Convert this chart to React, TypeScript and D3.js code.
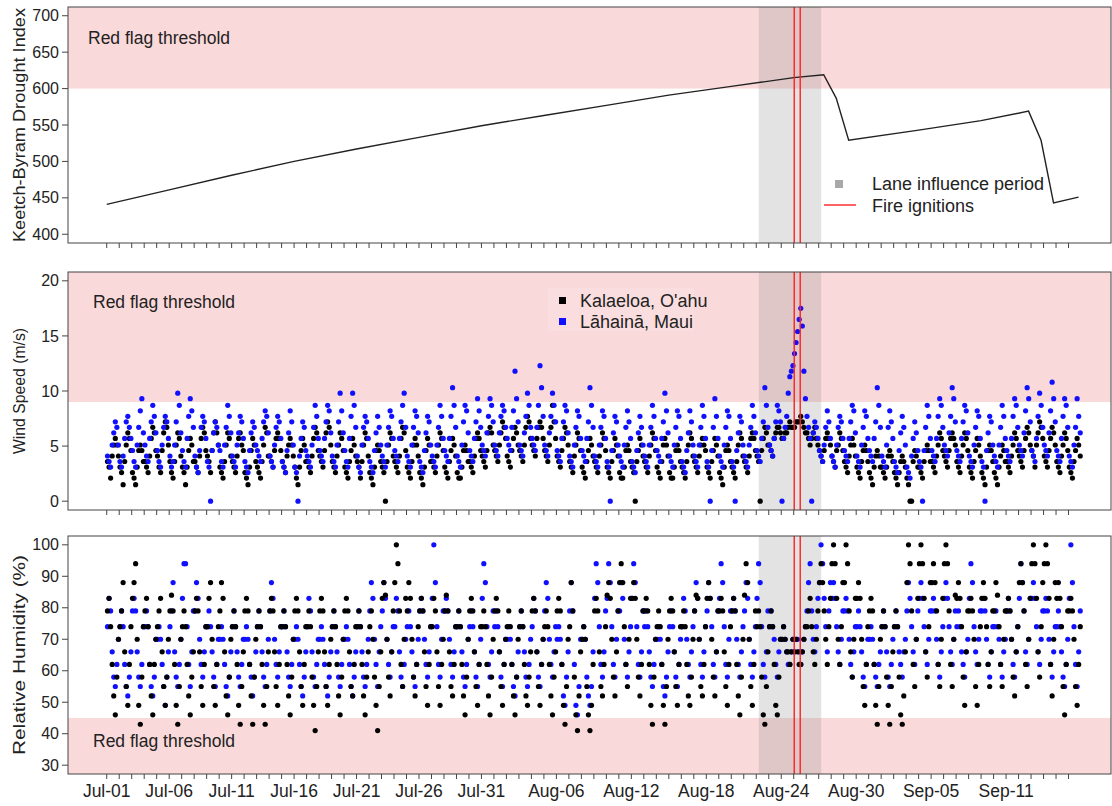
import React from 'react';
import * as d3 from 'd3';

// days counted from Jul-01
const tickDays = [0, 5, 10, 15, 20, 25, 30, 36, 42, 48, 54, 60, 66, 72];
const tickLabels = ['Jul-01', 'Jul-06', 'Jul-11', 'Jul-16', 'Jul-21', 'Jul-26', 'Jul-31', 'Aug-06', 'Aug-12', 'Aug-18', 'Aug-24', 'Aug-30', 'Sep-05', 'Sep-11'];
const lastDay = 77;

const lanePeriod = [52.2, 57.2];
const ignitionDays = [55.04, 55.52];

const kbdiDays = [0, 5, 10, 15, 20, 25, 30, 35, 40, 45, 50, 55, 57.4, 58.4, 59.4, 65, 70, 73.8, 74.8, 75.8, 77.8];
const kbdiValues = [441, 461, 481, 500, 517, 533, 549, 563, 577, 591, 603, 615, 619, 587, 529, 543, 556, 569, 529, 443, 451];

// wind speed (m/s), 3-hourly readings per day
const kalaeloaWind = [
  [3.6,3.1,2.1,4.1,5.1,5.7,5.1,4.1],[3.1,2.6,1.5,3.6,5.1,6.2,5.7,4.6],[2.6,2.1,1.5,3.1,4.6,5.1,4.6,3.6],[3.6,3.1,2.6,4.1,5.7,6.7,6.2,4.6],
  [4.1,3.1,2.6,4.6,6.2,7.2,6.7,5.1],[3.6,2.6,2.1,3.6,5.1,6.2,5.7,4.1],[3.1,2.6,1.5,3.1,4.6,5.7,5.1,3.6],[3.6,3.1,2.6,4.1,5.7,6.7,6.2,4.6],
  [4.1,3.6,2.6,4.6,6.2,7.2,6.2,5.1],[3.1,2.6,2.1,3.6,5.1,6.2,5.7,4.1],[3.6,3.1,2.6,4.1,5.7,6.2,5.1,4.6],[2.6,2.1,1.5,3.1,4.6,5.7,5.1,3.6],
  [3.1,2.6,2.1,3.6,5.1,6.7,6.2,4.1],[4.1,3.6,3.1,4.6,5.7,6.2,5.7,4.6],[3.6,3.1,2.6,4.1,5.1,5.7,5.1,4.1],[3.1,2.1,1.5,3.1,4.6,5.7,5.1,3.6],
  [3.6,3.1,2.6,4.1,5.7,6.7,6.2,4.6],[4.1,3.6,3.1,4.6,6.2,7.2,6.7,5.1],[3.6,3.1,2.6,4.1,5.1,6.2,5.7,4.6],[3.1,2.6,2.1,3.6,4.6,5.7,5.1,4.1],
  [3.6,3.1,2.1,3.6,5.1,6.2,5.7,4.1],[2.6,2.1,1.5,3.1,4.6,5.1,4.6,3.6],[3.1,2.6,0,3.6,5.1,6.2,5.7,4.1],[3.6,3.1,2.6,4.1,5.7,6.7,6.2,4.6],
  [3.1,2.6,2.1,3.6,5.1,5.7,5.1,4.1],[2.6,2.1,1.5,3.1,4.6,5.7,5.1,3.6],[3.6,3.1,2.6,4.1,5.1,6.2,5.7,4.6],[3.1,2.6,2.1,3.6,4.6,5.7,5.1,4.1],
  [2.6,2.1,2.1,3.1,4.6,5.1,4.6,3.6],[3.6,3.1,2.6,4.1,5.7,6.2,5.7,4.6],[4.1,3.6,3.1,4.6,6.2,6.7,6.2,5.1],[4.6,4.1,3.6,5.1,6.2,7.2,6.7,5.7],
  [4.1,3.6,3.1,4.6,5.7,6.7,6.2,5.1],[4.6,4.1,3.6,5.1,6.7,7.7,7.2,5.7],[5.1,4.6,4.1,5.7,6.7,7.2,6.7,5.7],[4.6,4.1,3.6,5.1,6.7,8.7,7.2,5.7],
  [4.1,3.6,3.1,4.6,5.7,6.7,6.2,5.1],[3.6,3.1,2.6,4.1,5.1,6.2,5.7,4.6],[3.1,2.6,2.1,3.6,4.6,5.7,5.1,4.1],[3.6,3.1,2.6,4.1,5.1,6.2,5.7,4.6],
  [3.1,2.6,2.1,3.6,4.6,5.7,5.1,4.1],[2.6,2.1,2.1,3.1,4.6,5.1,4.6,3.6],[3.1,2.6,0,3.6,4.6,5.7,5.1,4.1],[3.6,3.1,2.6,4.1,5.1,6.2,5.7,4.6],
  [3.1,2.6,2.1,3.6,5.1,5.7,5.1,4.1],[2.6,2.1,2.1,3.1,4.6,5.1,4.6,3.6],[3.1,2.6,2.1,3.6,5.1,6.2,5.7,4.1],[3.6,3.1,2.6,4.1,5.1,5.7,5.1,4.6],
  [3.1,2.6,2.1,3.6,4.6,5.7,5.1,4.1],[2.6,2.1,1.5,3.1,4.6,5.1,4.6,3.6],[3.1,2.6,2.1,3.6,5.1,6.2,5.7,4.1],[3.6,3.1,2.6,4.1,5.7,6.2,5.7,4.6],
  [4.1,3.6,0,4.6,5.7,6.7,6.2,5.1],[5.1,4.6,4.1,5.7,6.2,6.7,6.7,6.2],[5.7,5.7,6.2,6.2,6.7,7.2,6.7,6.7],[6.7,7.2,7.2,7.2,7.7,7.2,6.7,6.2],
  [6.2,5.7,5.1,5.7,6.2,6.7,5.7,5.1],[4.6,4.1,3.6,4.6,5.7,6.2,5.7,5.1],[4.1,3.6,3.1,4.6,5.1,6.2,5.7,4.6],[3.6,3.1,2.6,4.1,5.1,5.7,5.1,4.1],
  [3.1,2.6,2.1,3.6,4.6,5.1,4.6,3.6],[2.6,2.1,1.5,3.1,4.1,4.6,4.1,3.1],[3.1,2.6,2.1,3.1,4.1,4.6,4.1,3.6],[2.6,2.1,1.5,2.6,3.6,4.1,3.6,3.1],
  [2.1,1.5,0,0,3.6,4.6,4.1,3.1],[3.1,2.6,2.1,3.6,4.6,5.1,4.6,3.6],[3.6,3.1,2.6,4.1,5.1,6.2,5.7,4.6],[4.1,3.6,3.1,4.6,5.7,6.2,5.7,5.1],
  [3.6,3.1,2.6,4.1,5.1,6.2,5.7,4.6],[3.1,2.6,2.1,3.6,4.6,5.7,5.1,4.1],[2.6,2.1,1.5,3.1,4.6,5.1,4.6,3.6],[2.6,2.1,1.5,3.1,4.1,5.1,4.6,3.6],
  [3.6,3.1,2.6,4.1,5.1,6.2,5.7,4.6],[4.1,3.6,3.1,4.6,5.7,6.7,6.2,5.1],[4.6,4.1,3.1,5.1,6.2,7.2,6.7,5.7],[4.1,3.6,3.1,4.6,5.7,6.7,6.2,5.1],
  [3.6,3.1,2.6,4.1,5.1,6.2,5.7,4.6],[3.1,2.6,2.1,3.6,4.6,5.7,5.1,4.1],
];
const lahainaWind = [
  [4.1,3.6,3.1,5.1,6.2,7.2,6.7,5.1],[3.6,3.1,4.1,5.7,7.2,7.7,6.7,5.7],[4.6,3.6,3.1,5.1,6.7,8.2,9.3,6.2],[5.1,4.1,3.6,5.7,7.2,8.7,7.7,6.2],
  [4.6,3.6,3.1,5.1,6.7,7.7,7.2,5.7],[4.1,3.1,3.6,5.1,7.2,9.8,8.7,6.2],[4.6,3.6,3.1,5.7,7.7,9.3,8.2,6.7],[4.1,3.1,2.6,4.6,6.7,7.7,7.2,5.7],
  [3.6,3.1,0,4.6,6.2,7.2,6.7,5.1],[4.6,3.6,3.1,5.1,6.7,8.7,7.7,6.2],[4.1,3.6,3.1,5.1,6.2,7.7,7.2,5.7],[3.6,3.1,2.6,4.6,6.2,7.2,6.7,5.1],
  [4.6,4.1,3.6,5.7,7.2,8.2,7.7,6.2],[4.1,3.6,3.1,5.1,6.7,7.7,7.2,5.7],[3.6,3.1,2.6,4.6,6.2,8.2,7.2,5.1],[3.1,2.6,0,4.1,5.7,7.2,6.7,4.6],
  [4.1,3.6,3.1,5.1,6.7,8.7,7.7,5.7],[4.6,4.1,3.6,5.7,7.2,8.7,8.2,6.2],[4.1,3.6,3.1,5.1,7.2,9.8,8.2,6.2],[4.6,3.6,3.1,5.7,7.7,9.8,8.7,6.7],
  [4.1,3.1,2.6,5.1,6.7,7.7,7.2,5.7],[3.6,3.1,2.6,4.6,6.2,7.7,6.7,5.1],[4.1,3.6,3.1,5.1,6.7,8.2,7.7,5.7],[4.6,4.1,3.6,5.7,7.2,8.7,9.8,6.7],
  [4.1,3.6,3.1,5.1,6.7,8.2,7.7,6.2],[3.6,3.1,2.6,4.6,6.2,7.7,7.2,5.1],[4.1,3.6,3.1,5.1,6.7,8.7,7.7,5.7],[4.6,4.1,3.6,5.7,7.7,10.3,8.7,6.7],
  [4.1,3.6,3.1,5.1,7.2,8.7,8.2,6.2],[4.6,4.1,3.6,5.7,7.2,9.3,8.2,6.7],[5.1,4.6,4.1,6.2,7.7,9.3,8.7,7.2],[5.1,4.6,4.1,6.2,7.7,8.7,8.2,6.7],
  [5.7,5.1,4.6,6.7,8.2,11.8,9.3,7.2],[5.1,4.6,4.1,6.2,7.7,9.8,8.7,6.7],[5.7,5.1,4.6,6.7,8.7,12.3,10.3,7.7],[5.1,4.6,4.1,6.2,7.7,9.8,8.7,7.2],
  [4.6,4.1,3.6,5.7,7.2,8.7,8.2,6.2],[4.1,3.6,3.1,5.1,6.7,8.2,7.7,5.7],[4.6,4.1,3.6,5.7,7.2,10.3,8.7,6.7],[4.1,3.6,3.1,5.1,6.7,8.2,7.7,5.7],
  [3.6,3.1,0,4.6,6.2,7.7,7.2,5.1],[4.1,3.6,3.1,5.1,6.7,8.2,7.2,5.7],[3.6,3.1,2.6,4.6,6.2,7.7,6.7,5.1],[4.1,3.6,3.1,5.1,6.7,8.7,7.7,5.7],
  [4.6,4.1,3.6,5.7,7.2,9.8,8.2,6.2],[4.1,3.6,3.1,5.1,6.7,8.2,7.7,5.7],[3.6,3.1,2.6,4.6,6.2,8.2,7.2,5.1],[4.1,3.6,3.1,5.1,6.7,8.7,7.7,5.7],
  [3.6,3.1,0,4.6,6.7,9.3,7.7,5.7],[4.1,3.6,3.1,5.1,6.7,8.2,7.7,5.7],[3.6,3.1,0,4.6,6.2,7.7,7.2,5.1],[4.1,3.6,3.1,5.1,6.7,8.7,7.7,6.2],
  [4.6,4.1,3.6,5.7,7.2,10.3,8.7,6.7],[5.1,4.6,4.1,5.7,7.2,8.7,8.2,7.2],[0,5.7,6.7,7.7,9.8,11.3,11.8,12.3],[13.4,14.4,15.4,16.5,17.5,15.9,11.8,9.3],
  [7.7,6.7,5.7,0,6.2,7.2,6.7,5.7],[4.6,4.1,3.6,5.1,6.7,8.2,7.2,5.7],[4.1,3.6,3.1,5.1,6.7,7.7,7.2,5.7],[4.6,4.1,3.6,5.7,7.2,8.7,8.2,6.2],
  [4.1,3.6,3.1,5.1,6.7,8.2,7.7,5.7],[4.6,4.1,3.6,5.7,7.2,10.3,8.7,6.7],[4.1,3.6,3.1,5.1,6.7,8.2,7.2,5.7],[3.6,3.1,2.6,4.6,6.2,7.7,6.7,5.1],
  [3.1,2.6,2.1,4.1,5.7,7.2,6.2,4.6],[3.6,3.1,0,4.6,6.7,8.7,7.7,5.7],[4.6,4.1,3.6,5.7,7.7,9.3,8.7,6.7],[5.1,4.6,4.1,6.2,7.7,10.3,9.3,7.2],
  [4.6,4.1,3.6,5.7,7.2,8.7,8.2,6.2],[4.1,3.6,3.1,5.1,6.7,8.2,7.7,5.7],[3.6,3.1,0,4.6,6.2,7.7,7.2,5.1],[4.1,3.6,3.1,5.1,6.7,8.7,7.7,5.7],
  [4.6,4.1,3.6,5.7,7.7,9.3,8.7,6.7],[5.1,4.6,4.1,6.2,8.2,10.3,9.3,7.2],[4.6,4.1,3.6,5.7,7.7,9.8,8.7,6.7],[5.1,4.6,4.1,6.2,8.2,10.8,9.3,7.2],
  [4.6,4.1,3.6,5.7,7.7,9.3,8.7,6.7],[4.1,3.6,3.1,5.1,6.7,9.3,7.7,6.2],
];

// relative humidity (%), 3-hourly readings per day
const kalaeloaRH = [
  [79,83,74,62,52,46,58,70],[74,79,88,66,55,49,62,74],[83,88,94,70,49,43,58,74],[79,83,74,62,52,46,62,70],
  [74,79,83,66,55,49,58,70],[79,84,79,62,49,43,55,70],[74,79,74,62,52,46,58,66],[79,83,79,66,55,49,62,74],
  [74,83,88,70,55,49,62,74],[79,88,83,66,52,46,58,70],[74,79,74,62,49,43,55,66],[79,83,79,62,52,43,58,70],
  [74,79,74,62,49,43,55,66],[79,83,79,66,55,49,62,74],[74,79,74,62,52,46,58,70],[79,83,79,66,55,49,62,74],
  [74,79,74,58,49,41,55,66],[79,83,79,66,55,49,62,70],[74,79,74,62,52,46,58,70],[79,83,79,66,55,52,62,74],
  [74,79,74,62,52,46,58,66],[74,79,70,58,49,41,55,66],[83,88,84,70,58,52,66,79],[88,100,94,79,62,55,70,83],
  [79,88,83,70,58,52,62,74],[79,83,79,66,55,49,62,74],[74,83,79,66,55,49,62,70],[79,84,79,66,55,52,62,74],
  [74,79,74,62,52,46,58,70],[79,83,79,66,55,49,62,74],[74,79,74,62,52,46,58,70],[79,83,79,66,55,49,62,70],
  [74,79,74,62,52,46,58,70],[74,79,74,62,52,49,58,66],[79,83,79,66,55,49,62,70],[74,79,74,62,52,46,58,66],
  [79,83,79,62,49,43,55,70],[74,88,79,58,46,41,52,66],[70,74,70,55,46,41,49,62],[79,83,79,66,55,52,62,74],
  [84,88,83,70,58,52,66,79],[88,94,88,74,62,55,70,83],[83,88,83,70,58,52,62,79],[79,83,79,62,49,43,58,70],
  [74,79,74,62,49,43,55,70],[79,83,79,66,55,49,62,74],[74,79,74,62,52,49,58,70],[79,84,83,70,55,52,62,74],
  [83,88,83,70,58,52,66,79],[79,83,79,66,55,49,62,74],[79,83,79,62,52,46,58,70],[84,94,88,70,55,49,62,79],
  [74,79,74,58,46,43,55,66],[74,79,74,62,49,46,58,70],[70,74,70,66,66,62,66,70],[66,70,66,62,62,66,70,74],
  [74,79,83,74,66,62,70,79],[88,94,88,79,70,62,74,83],[94,100,94,83,70,62,74,88],[88,100,94,79,66,58,70,83],
  [83,88,83,70,55,49,62,74],[79,83,79,62,49,43,55,70],[74,79,74,58,49,43,55,66],[74,79,74,58,46,43,52,66],
  [88,100,94,79,62,55,70,83],[94,100,94,83,66,58,74,88],[88,94,88,79,62,55,70,83],[94,100,94,79,62,55,70,84],
  [83,88,83,74,58,49,66,79],[79,83,79,70,55,49,62,74],[83,88,83,74,62,55,66,79],[79,88,84,74,62,55,70,79],
  [79,83,79,70,58,52,66,74],[88,94,88,79,62,55,70,83],[94,100,94,83,66,58,74,88],[94,100,94,83,62,52,70,88],
  [83,88,83,74,55,46,62,79],[79,83,79,70,55,49,62,74],
];
const lahainaRH = [
  [74,83,79,66,58,55,62,70],[74,79,74,62,55,52,58,66],[79,83,79,66,58,55,62,74],[74,79,74,62,55,52,58,70],
  [70,74,70,62,55,49,58,66],[74,79,88,66,58,55,62,70],[83,94,94,74,62,55,66,79],[79,88,83,70,62,58,66,74],
  [74,79,74,66,58,55,62,70],[70,74,70,62,55,52,58,66],[74,79,74,66,58,55,62,70],[70,74,70,62,58,52,58,66],
  [74,79,74,66,58,55,62,70],[79,88,83,70,62,58,66,74],[74,79,74,66,58,55,62,70],[70,74,70,62,55,52,58,66],
  [74,83,79,66,58,55,62,70],[70,74,70,62,55,52,58,66],[74,79,74,66,58,55,62,70],[70,74,70,62,55,52,58,66],
  [74,79,74,66,58,55,62,70],[79,88,83,70,62,55,66,74],[79,88,83,70,62,58,66,74],[74,83,79,66,58,55,62,70],
  [74,79,74,66,58,55,62,70],[79,83,79,70,62,58,66,74],[83,100,88,74,62,58,70,79],[79,83,79,70,62,58,66,74],
  [74,79,74,66,58,55,62,70],[74,79,74,66,58,55,62,70],[83,94,88,74,62,58,66,79],[74,79,74,66,58,55,62,70],
  [70,74,70,62,55,52,58,66],[74,79,74,66,58,55,62,70],[74,83,79,66,58,55,62,70],[79,88,83,70,62,58,66,74],
  [70,74,70,62,52,49,58,66],[79,88,79,62,49,46,55,70],[70,74,70,58,52,49,55,66],[83,94,88,74,62,58,66,79],
  [83,94,88,74,62,58,70,79],[79,88,83,70,62,58,66,74],[83,94,88,74,62,58,66,79],[74,79,74,66,58,55,62,70],
  [70,74,70,62,55,52,58,66],[74,79,74,66,58,55,62,70],[74,83,79,70,62,58,66,74],[79,88,83,70,62,58,66,74],
  [79,88,83,74,62,58,66,79],[83,94,88,74,62,58,70,79],[79,83,79,70,62,58,66,74],[79,88,83,70,62,58,66,74],
  [83,94,88,74,62,58,66,79],[74,79,74,70,62,58,66,70],[70,74,70,66,62,62,66,70],[66,70,70,66,62,66,70,74],
  [79,88,94,79,70,66,74,83],[88,100,94,83,74,66,79,88],[83,88,83,74,66,62,70,79],[79,83,79,70,62,58,66,74],
  [74,79,74,66,58,55,62,70],[70,74,70,62,58,55,62,66],[74,79,74,66,58,55,62,70],[74,79,74,66,62,58,66,70],
  [79,88,83,74,66,62,70,79],[83,88,83,74,66,62,70,79],[79,83,79,70,62,58,66,74],[83,88,83,74,66,62,70,79],
  [74,79,74,66,62,58,66,70],[83,94,88,74,66,62,70,79],[79,83,79,70,62,58,66,74],[74,79,74,70,62,58,66,70],
  [79,83,79,70,62,58,66,74],[83,94,88,79,66,62,70,83],[83,88,83,74,66,62,70,79],[79,83,79,70,62,58,66,74],
  [74,79,74,66,58,55,62,70],[83,100,88,74,62,55,66,79],
];

const FONT = 'Liberation Sans, Arial, Helvetica, sans-serif';
const W = 1112;
const H = 806;
const left = 68;
const right = 1111;

const x = d3.scaleLinear().domain([-3.1, 80.4]).range([left, right]);

const panels = [
  { top: 7, bottom: 243, domain: [388, 712], ticks: [400, 450, 500, 550, 600, 650, 700], title: 'Keetch-Byram Drought Index', titleLen: 234, flag: [600, 712], flagLabelY: 38, flagLabelX: 88 },
  { top: 272, bottom: 510, domain: [-0.8, 20.8], ticks: [0, 5, 10, 15, 20], title: 'Wind Speed (m/s)', titleLen: 126, flag: [9, 20.8], flagLabelY: 302, flagLabelX: 93 },
  { top: 536, bottom: 774, domain: [27.2, 102.8], ticks: [30, 40, 50, 60, 70, 80, 90, 100], title: 'Relative Humidity (%)', titleLen: 200, flag: [27.2, 45], flagLabelY: 741, flagLabelX: 93 },
];

const hourOffsets = [1.5, 4.5, 7.5, 10.5, 13.5, 16.5, 19.5, 22.5];

function flatten(rows: number[][]) {
  const out: { d: number; v: number }[] = [];
  rows.forEach((row, day) => row.forEach((v, i) => out.push({ d: day + hourOffsets[i] / 24, v })));
  return out;
}

function Panel({ p, index, children }: any) {
  const y = d3.scaleLinear().domain(p.domain).range([p.bottom, p.top]);
  const days = d3.range(0, lastDay + 1);
  const cy = (p.top + p.bottom) / 2;
  return (
    <g>
      <rect x={left} width={right - left} y={y(p.flag[1])} height={y(p.flag[0]) - y(p.flag[1])} fill="rgb(250,217,218)" />
      <rect x={x(lanePeriod[0])} width={x(lanePeriod[1]) - x(lanePeriod[0])} y={p.top} height={p.bottom - p.top} fill="rgba(140,140,140,0.24)" />
      {children(y)}
      {ignitionDays.map((d, i) => (
        <line key={i} x1={x(d)} x2={x(d)} y1={p.top} y2={p.bottom} stroke="#ff2020" strokeWidth={1.4} />
      ))}
      <text x={p.flagLabelX} y={p.flagLabelY} dy="0.35em" fontSize={17.5} fill="#222">Red flag threshold</text>
      <rect x={left} y={p.top} width={right - left} height={p.bottom - p.top} fill="none" stroke="#444" strokeWidth={1} />
      {p.ticks.map((t: number) => (
        <g key={t}>
          <line x1={left - 6} x2={left} y1={y(t)} y2={y(t)} stroke="#444" />
          <text x={left - 9} y={y(t)} dy="0.35em" textAnchor="end" fontSize={16} fill="#222">{t}</text>
        </g>
      ))}
      {days.map((d) => (
        <line key={d} x1={x(d)} x2={x(d)} y1={p.bottom} y2={p.bottom + 5} stroke="#444" />
      ))}
      {index === 2 && tickDays.map((d, i) => (
        <text key={d} x={x(d)} y={p.bottom + 17} dy="0.35em" textAnchor="middle" fontSize={17.5} fill="#222">{tickLabels[i]}</text>
      ))}
      <text transform={`translate(19,${cy}) rotate(-90)`} x={-p.titleLen / 2} dy="0.35em" fontSize={17}
        textLength={p.titleLen} lengthAdjust="spacingAndGlyphs" fill="#222">{p.title}</text>
    </g>
  );
}

export default function App() {
  const kbdiLine = (y: any) =>
    d3.line<number>().x((_, i) => x(kbdiDays[i])).y((v) => y(v))(kbdiValues) || '';
  const dots = (rows: number[][], y: any, color: string) =>
    flatten(rows).map((p, i) => <circle key={i} cx={x(p.d)} cy={y(p.v)} r={2.6} fill={color} />);

  return (
    <svg width={W} height={H} style={{ position: 'absolute', left: 0, top: 0, background: '#fff', fontFamily: FONT }}>
      <Panel p={panels[0]} index={0}>
        {(y: any) => (
          <g>
            <path d={kbdiLine(y)} fill="none" stroke="#222" strokeWidth={1.4} />
            <rect x={835} y={180} width={8} height={8} fill="#a8a8a8" />
            <text x={872} y={184} dy="0.35em" fontSize={18} fill="#222">Lane influence period</text>
            <line x1={824} x2={856} y1={205} y2={205} stroke="#ff2020" strokeWidth={1.4} />
            <text x={872} y={206} dy="0.35em" fontSize={18} fill="#222">Fire ignitions</text>
          </g>
        )}
      </Panel>
      <Panel p={panels[1]} index={1}>
        {(y: any) => (
          <g>
            <rect x={548} y={288} width={146} height={43} fill="rgba(255,255,255,0.15)" />
            {dots(kalaeloaWind, y, '#000')}
            {dots(lahainaWind, y, '#1010ff')}
            <rect x={559} y={297} width={7} height={7} fill="#000" />
            <text x={580} y={301} dy="0.35em" fontSize={18} fill="#222">Kalaeloa, O'ahu</text>
            <rect x={559} y={318} width={7} height={7} fill="#1010ff" />
            <text x={580} y={322} dy="0.35em" fontSize={18} fill="#222">Lāhainā, Maui</text>
          </g>
        )}
      </Panel>
      <Panel p={panels[2]} index={2}>
        {(y: any) => (
          <g>
            {dots(lahainaRH, y, '#1010ff')}
            {dots(kalaeloaRH, y, '#000')}
          </g>
        )}
      </Panel>
    </svg>
  );
}
